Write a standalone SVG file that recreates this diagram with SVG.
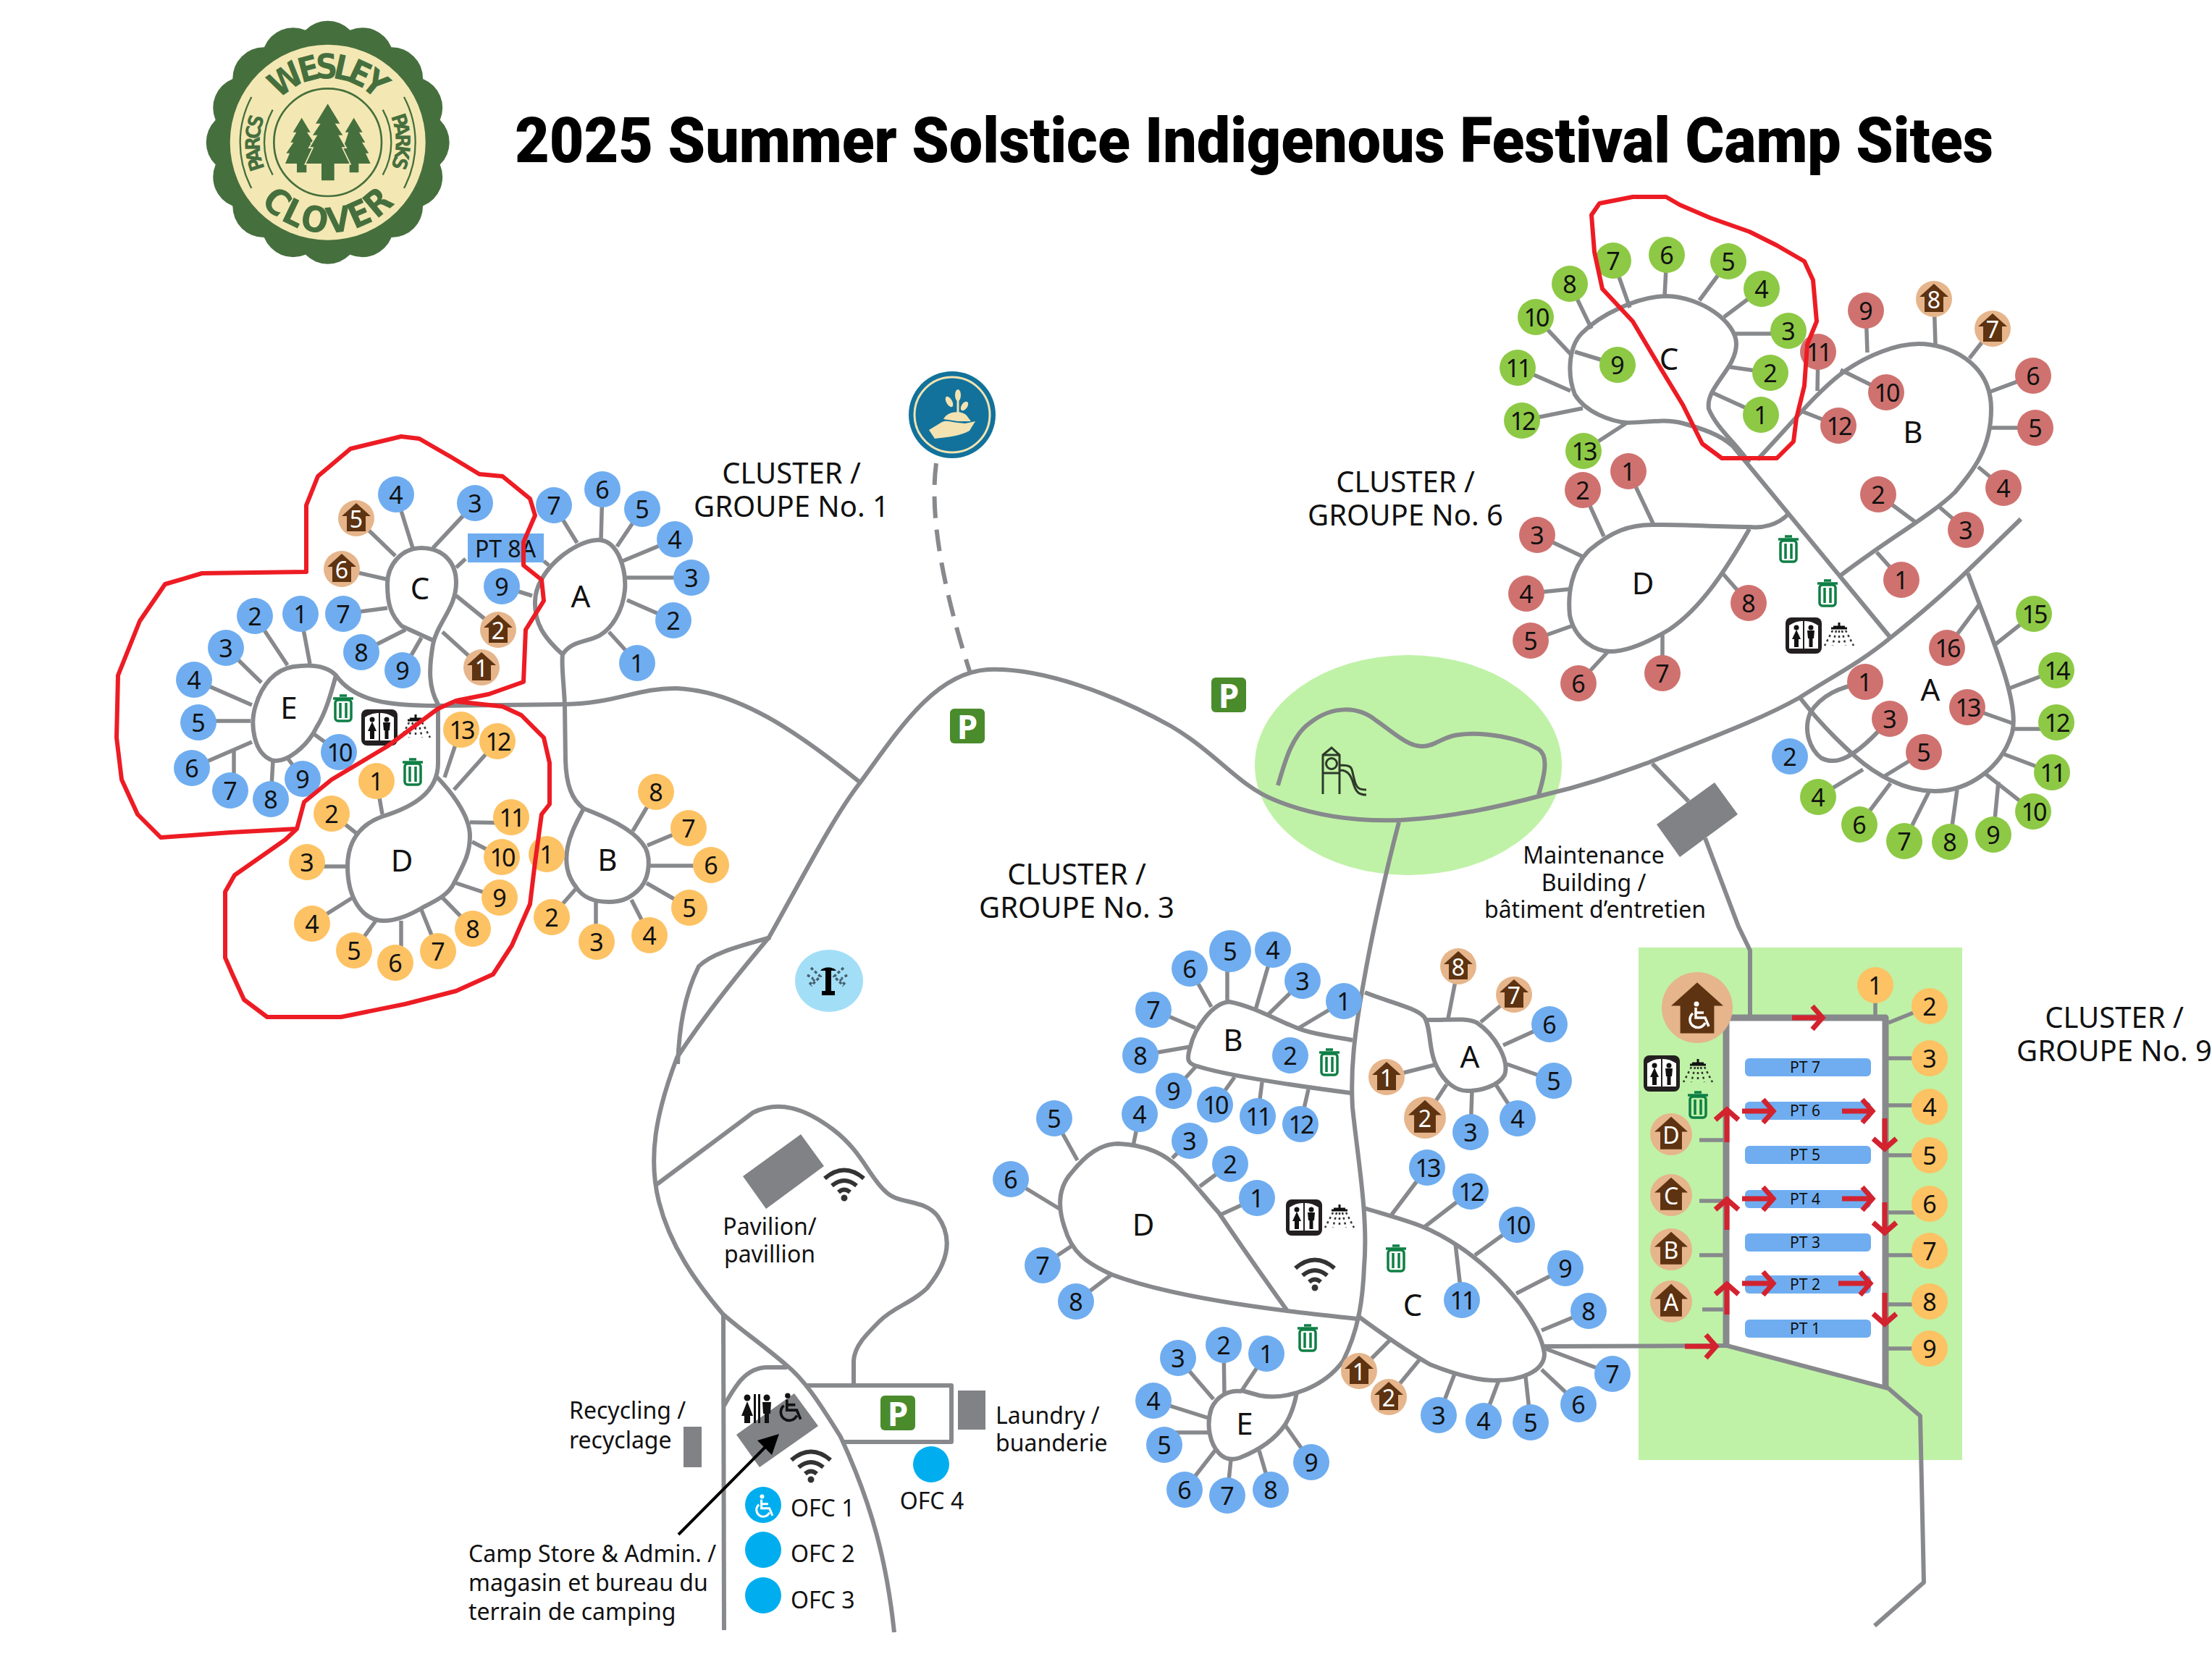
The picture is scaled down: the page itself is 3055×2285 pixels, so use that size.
<svg xmlns="http://www.w3.org/2000/svg" width="3055" height="2285" viewBox="0 0 3055 2285">
<style>
text{font-family:"Noto Sans","Open Sans",sans-serif;fill:#111}
.s text{font-size:34px;text-anchor:middle;dominant-baseline:central}
.s circle{fill:#6fadf0}
.o circle{fill:#fdc263}.g circle{fill:#8dc945}.r circle{fill:#cf726f}.h circle{fill:#e6b58b}
.h text{fill:#fff;font-size:32px}
.t text{letter-spacing:-3px}
.L text,text.L{font-size:42px;text-anchor:middle;dominant-baseline:central}
.cl{font-size:40px;text-anchor:middle}
.lb{font-size:32px}.mid{text-anchor:middle}
.rd{fill:none;stroke:#87898c;stroke-width:6;stroke-linejoin:round;stroke-linecap:butt}
.sp{fill:none;stroke:#87898c;stroke-width:5.5}
.bd{fill:#808285}
.red{fill:none;stroke:#ed1c24;stroke-width:6;stroke-linejoin:round}
.ar{fill:none;stroke:#d2232f;stroke-width:7;marker-end:url(#ah)}
.pt{fill:#6fadf0}
.ptt{font-size:21px;text-anchor:middle;dominant-baseline:central}
.ofc{fill:#00aeef}
.lg{fill:#466f3e}
.lgt{font-family:"Liberation Sans Narrow","DejaVu Sans Condensed",Roboto,sans-serif;font-weight:700;fill:#466f3e}
</style>
<defs>
<marker id="ah" markerUnits="userSpaceOnUse" markerWidth="30" markerHeight="40" refX="22" refY="20" orient="auto" overflow="visible"><path d="M8,4 L22,20 L8,36" fill="none" stroke="#d2232f" stroke-width="7"/></marker>
<polygon id="hs" points="0,-21 20,-3 13,-3 13,18 -13,18 -13,-3 -20,-3" fill="#5e3311"/>
<g id="tr" fill="none" stroke="#0f7f45" stroke-width="3.5"><path d="M-14,-13H14M-5,-17H5"/><rect x="-11" y="-11" width="22" height="29" rx="4"/><path d="M-4,-7V14M4,-7V14"/></g>
<g id="wc"><rect x="-25" y="-25" width="50" height="50" rx="8" fill="#231f20"/><path d="M-20,18V-14Q-10,-21 0,-20Q10,-21 20,-14V18Z" fill="#fff"/><path d="M-1,-20h2V18h-2Z" fill="#231f20"/><circle cx="-10" cy="-11" r="3.5" fill="#111"/><path d="M-10,-8L-16,5H-13V16H-7V5H-4Z" fill="#111"/><circle cx="10" cy="-11" r="3.5" fill="#111"/><path d="M5,-7H15L14,4H12.500V16H7.500V4H6Z" fill="#111"/></g>
<g id="sh"><path d="M-11,-8H11M0,-16V-9M-8,-10H8" stroke="#111" stroke-width="3" fill="none"/><path d="M-9,-5L-20,16M-4,-5L-9,16M0,-5V16M4,-5L9,16M9,-5L20,16" stroke="#333" stroke-width="2.500" stroke-dasharray="3 4" fill="none"/></g>
<g id="wf" fill="none" stroke="#333" stroke-width="6"><path d="M-27,-8Q0,-31 27,-8M-17,2Q0,-12 17,2M-8,11Q0,4 8,11"/><circle cx="0" cy="19" r="3" fill="#333" stroke-width="3"/></g>
<g id="pk"><rect x="-24" y="-24" width="48" height="48" rx="6" fill="#4a8b2c"/></g>
<g id="wch" fill="none" stroke-width="3.500"><path d="M-4,-12V2H9L14,14"/><path d="M-4,-5H7"/><path d="M-8,-4A11,11 0 1 0 9,9"/></g>
<circle id="lobe" cx="452.700" cy="71.700" r="43"/>
<path id="wp" d="M378,386A265,265 0 0 1 778,386"/>
<path id="cp" d="M299,811A375,375 0 0 0 857,811"/>
<path id="pl" d="M318,668A280,280 0 0 1 318,452"/>
<path id="pr" d="M838,452A280,280 0 0 1 838,668"/>
</defs>
<rect width="3055" height="2285" fill="#fff"/>

<g id="park-areas">
<ellipse cx="1945" cy="1057" rx="212" ry="152" fill="#bff2a6"/>
<rect x="2263" y="1309" width="447" height="708" fill="#bff2a6"/>
<polygon points="2384,1406 2606,1406 2606,1918 2384,1859" fill="#fff"/>
</g>

<g id="logo">
<circle cx="452.700" cy="196.700" r="156" class="lg"/>
<g class="lg"><use href="#lobe"/><use href="#lobe" transform="rotate(22.5 452.7 196.7)"/><use href="#lobe" transform="rotate(45 452.7 196.7)"/><use href="#lobe" transform="rotate(67.5 452.7 196.7)"/><use href="#lobe" transform="rotate(90 452.7 196.7)"/><use href="#lobe" transform="rotate(112.5 452.7 196.7)"/><use href="#lobe" transform="rotate(135 452.7 196.7)"/><use href="#lobe" transform="rotate(157.5 452.7 196.7)"/><use href="#lobe" transform="rotate(180 452.7 196.7)"/><use href="#lobe" transform="rotate(202.5 452.7 196.7)"/><use href="#lobe" transform="rotate(225 452.7 196.7)"/><use href="#lobe" transform="rotate(247.5 452.7 196.7)"/><use href="#lobe" transform="rotate(270 452.7 196.7)"/><use href="#lobe" transform="rotate(292.5 452.7 196.7)"/><use href="#lobe" transform="rotate(315 452.7 196.7)"/><use href="#lobe" transform="rotate(337.5 452.7 196.7)"/></g>
<circle cx="452.700" cy="196.700" r="135" fill="#f3e8b3"/>
<g transform="translate(260 10) scale(.33333)">
<circle cx="578" cy="560" r="223" fill="none" stroke="#466f3e" stroke-width="8"/>
<path d="M262,372A403,403 0 0 0 262,750M350,425A278,278 0 0 0 350,695M894,372A403,403 0 0 1 894,750M806,425A278,278 0 0 1 806,695" fill="none" stroke="#466f3e" stroke-width="7"/>
<polygon class="lg" points="470,458 506,518 492,518 520,560 505,560 540,648 490,648 490,685 450,685 450,648 402,648 420,605 406,605 436,560 424,560 448,518 434,518"/>
<polygon class="lg" points="686,458 722,518 708,518 733,560 720,560 748,605 735,605 755,648 706,648 706,685 668,685 668,648 620,648 650,560 664,518 650,518"/>
<polygon class="lg" stroke="#f3e8b3" stroke-width="10" paint-order="stroke" points="578,400 628,482 608,482 640,530 622,530 650,580 635,580 668,648 605,648 605,718 552,718 552,648 488,648 520,580 505,580 535,530 516,530 548,482 528,482"/>
<text class="lgt" font-size="142"><textPath href="#wp" textLength="453" lengthAdjust="spacing">WESLEY</textPath></text>
<text class="lgt" font-size="148"><textPath href="#cp" textLength="628" lengthAdjust="spacing">CLOVER</textPath></text>
<text class="lgt" font-size="84"><textPath href="#pl" textLength="218" lengthAdjust="spacing">PARCS</textPath></text>
<text class="lgt" font-size="84"><textPath href="#pr" textLength="218" lengthAdjust="spacing">PARKS</textPath></text>
</g>
</g>

<text id="title" x="711" y="224" font-size="88" font-weight="900" textLength="2042" lengthAdjust="spacingAndGlyphs" style="font-family:Roboto,'Noto Sans',sans-serif;fill:#000">2025 Summer Solstice Indigenous Festival Camp Sites</text>

<g id="connectors">
<path class="rd" d="M1235,2255C1225,2160 1205,2080 1161,1985C1130,1935 1110,1905 1085,1885C1050,1855 1020,1835 998,1815C960,1770 925,1720 910,1660C895,1600 905,1540 935,1461C975,1400 1020,1345 1062,1295C1110,1210 1150,1130 1188,1081C1240,1010 1290,930 1364,925C1440,922 1540,960 1617,1003C1680,1040 1710,1085 1760,1105C1820,1130 1880,1135 1934,1133C2000,1130 2070,1115 2133,1098C2190,1085 2230,1070 2278,1053C2360,1020 2430,995 2485,964C2530,935 2570,915 2611,881C2650,850 2680,825 2718,788L2791,717"/>
<path class="rd" d="M936,1470C938,1420 945,1375 965,1335C985,1315 1030,1305 1064,1295"/>
<path class="rd" stroke-dasharray="30 16" d="M1293,640C1285,700 1295,790 1340,930"/>
<path class="rd" d="M906,1637L1040,1537C1075,1520 1110,1530 1150,1560C1190,1590 1200,1625 1222,1645C1240,1665 1275,1655 1295,1680C1320,1715 1305,1750 1280,1780C1260,1800 1235,1805 1215,1825C1195,1845 1180,1860 1179,1880L1179,1912"/>
<path class="rd" d="M1113,1914H1314V1992H1166"/>
<path class="rd" d="M999,1815L1000,2252"/>
<path class="rd" d="M1000,1942C1015,1915 1030,1889 1060,1889L1087,1889"/>
<path class="rd" d="M1765,1085C1775,1050 1785,1015 1810,998C1840,975 1875,975 1900,995C1925,1012 1945,1032 1965,1031C1985,1030 1990,1018 2015,1015C2050,1010 2100,1020 2125,1035C2140,1045 2132,1075 2125,1098"/>
<path class="rd" d="M2282,1055L2332,1107M2355,1158L2401,1280L2417,1313V1404"/>
<path class="rd" d="M1932,1136C1915,1200 1895,1290 1884,1353C1870,1430 1865,1480 1868,1530C1875,1600 1890,1680 1884,1750C1882,1800 1875,1840 1855,1880C1830,1915 1780,1935 1740,1928L1715,1921"/>
<!-- cluster 1 -->
<path class="rd" d="M777,904C750,880 738,860 739,830C740,790 790,748 825,746C855,745 865,790 863,815C860,845 845,868 828,878C808,888 790,885 777,904C775,920 779,945 780,975L781,1050C782,1085 790,1105 806,1117"/>
<path class="rd" d="M806,1117C840,1130 872,1145 887,1165C900,1180 898,1210 885,1226C870,1243 855,1246 841,1246C820,1246 805,1240 796,1226C783,1210 780,1190 784,1170C788,1150 797,1135 806,1117Z"/>
<path class="rd" d="M605,973C592,950 592,925 598,890C604,860 630,840 630,805C630,775 610,757 582,757C555,757 535,780 535,807C535,835 540,850 555,865L601,886"/>
<path class="rd" d="M464,933C450,918 425,918 405,921C380,925 362,945 353,975C345,1000 350,1040 375,1050C395,1056 425,1030 437,1005C450,985 458,955 464,933ZC490,970 540,975 605,975L780,973C850,972 880,950 935,951C1020,955 1100,1010 1188,1081"/>
<path class="rd" d="M605,975V1054C605,1095 570,1115 528,1128C495,1140 480,1165 480,1197C480,1240 500,1272 530,1272C550,1272 570,1262 585,1253C605,1243 620,1235 627,1220C640,1195 649,1180 649,1155C649,1125 620,1090 601,1071"/>
<path class="sp" d="M880,916L841,873M930,857L866,829M955,798H865M932,745L860,775M887,703L852,755M832,676L830,746M765,698L797,750M693,810L735,823M751,775L758,781M547,683L570,757M656,695L598,757M492,716L546,768M472,786L533,800M474,848L535,840M499,901L560,870M556,926L582,881M688,870L630,823M665,922L611,873M643,772L630,784M415,848L428,917M352,851L397,919M312,895L361,943M268,939L348,974M274,996H346M265,1061L348,1025M323,1092V1036M374,1104L377,1051M418,1076L397,1047M468,1039L432,1013M636,1008L614,1074M687,1024L627,1091M520,1079L528,1125M458,1124L492,1151M424,1197H480M430,1276L487,1240M489,1313L519,1272M554,1330V1272M605,1314L582,1257M653,1283L611,1240M690,1240L630,1220M693,1184L652,1163M706,1137L649,1136M761,1267L797,1226M823,1301V1246M897,1292L872,1243M952,1254L893,1220M982,1196H898M951,1144L894,1168M906,1094L874,1148"/>
<!-- cluster 6 -->
<path class="rd" d="M2416,639C2395,610 2370,590 2360,565C2355,535 2398,510 2398,475C2398,445 2350,410 2301,409C2260,410 2210,435 2185,460C2165,480 2165,520 2175,545C2190,570 2225,582 2247,584C2270,584 2300,578 2325,585C2350,592 2375,600 2393,616L2611,881"/>
<path class="rd" d="M2427,635C2470,590 2510,540 2546,514C2580,490 2620,475 2650,475C2690,475 2750,500 2750,565C2750,620 2725,650 2700,680C2670,710 2600,750 2542,795"/>
<path class="rd" d="M2469,711C2455,725 2435,730 2416,728C2370,728 2320,724 2286,725C2250,724 2225,735 2195,760C2170,785 2165,820 2168,850C2175,885 2205,900 2224,900C2250,900 2280,885 2305,870C2350,840 2385,785 2416,731"/>
<path class="rd" d="M2486,964C2510,995 2540,1025 2561,1044C2590,1070 2630,1093 2672,1093C2720,1093 2765,1060 2779,1012C2790,970 2750,880 2718,792"/>
<path class="rd" d="M2576,942C2540,950 2515,960 2500,985C2490,1010 2500,1035 2515,1047C2535,1058 2560,1050 2610,993"/>
<path class="sp" d="M2432,573L2366,543M2445,515L2389,507M2470,461H2397M2433,399L2381,438M2387,361L2347,415M2302,352L2299,409M2228,360L2251,425M2168,392L2198,454M2234,504L2175,486M2121,438L2169,489M2096,508L2169,540M2102,581L2186,564M2187,623L2247,584M2626,801L2592,763M2594,683L2645,721M2715,732L2678,700M2767,674L2732,645M2811,591H2749M2808,519L2749,541M2752,454L2720,495M2671,413L2673,475M2577,429L2579,487M2605,542L2542,511M2511,486L2510,540M2539,588L2488,568M2249,651L2283,723M2186,677L2215,741M2123,739L2186,769M2108,820L2167,814M2114,885L2173,864M2180,944L2221,900M2296,930V875M2415,833L2379,792M2511,1101L2573,1063M2657,1039L2603,1072M2568,1139L2611,1082M2630,1162L2664,1094M2693,1163L2703,1091M2753,1153L2760,1080M2808,1121L2742,1069M2834,1067L2768,1042M2840,1007H2779M2717,977L2779,999M2840,926L2775,951M2809,848L2756,890M2689,895L2733,836"/>
<!-- cluster 3 -->
<path class="rd" d="M1885,1371C1920,1385 1955,1392 1967,1405C1977,1420 1972,1450 1985,1475C1995,1495 2010,1507 2027,1507C2045,1507 2070,1500 2078,1485C2085,1465 2065,1430 2040,1413C2025,1405 1995,1410 1970,1409"/>
<path class="rd" d="M1868,1437C1840,1432 1810,1428 1791,1420C1765,1410 1730,1390 1698,1384C1675,1385 1650,1420 1644,1446C1638,1465 1640,1470 1657,1474C1700,1487 1790,1500 1866,1510"/>
<path class="rd" d="M1874,1822C1840,1818 1800,1814 1778,1811C1690,1800 1600,1785 1536,1761C1500,1745 1480,1730 1470,1695C1460,1665 1462,1640 1480,1620C1500,1595 1520,1580 1545,1580C1585,1582 1610,1595 1630,1615C1650,1635 1665,1655 1683,1675C1710,1715 1745,1765 1778,1811"/>
<path class="rd" d="M1884,1669C1910,1677 1940,1685 1963,1694C1985,1703 2000,1712 2015,1722C2045,1742 2075,1770 2100,1802C2120,1830 2130,1850 2133,1870C2133,1895 2100,1907 2065,1907C2035,1907 2000,1895 1975,1885C1940,1865 1905,1840 1874,1817"/>
<path class="rd" d="M2132,1860L2385,1859"/>
<path class="rd" d="M1715,1922C1695,1920 1680,1930 1673,1946C1665,1970 1672,1995 1683,2007C1690,2015 1700,2018 1712,2014C1735,2005 1760,1990 1775,1968C1783,1955 1788,1940 1791,1924"/>
<path class="sp" d="M2014,1335L2000,1407M2091,1374L2045,1412M2140,1415L2076,1444M2146,1493L2081,1470M2096,1545L2065,1497M2031,1564L2033,1507M1968,1544L1998,1498M1915,1488L1982,1471M1856,1383L1794,1420M1799,1355L1750,1403M1758,1312L1734,1395M1695,1314V1385M1643,1338L1673,1391M1593,1395L1651,1420M1575,1458L1644,1446M1621,1507L1651,1474M1678,1526L1705,1488M1737,1542L1743,1495M1796,1553L1807,1505M1736,1655L1686,1678M1699,1608L1657,1639M1643,1576L1619,1600M1574,1539L1565,1583M1456,1545L1488,1603M1396,1629L1465,1671M1440,1748L1482,1720M1486,1798L1535,1761M1971,1613L1922,1678M2031,1646L1966,1696M2095,1692L2037,1734M2019,1796L2010,1718M2162,1752L2094,1787M2194,1811L2129,1838M2227,1898L2134,1863M2180,1940L2129,1892M2114,1965L2107,1902M2049,1963L2070,1907M1987,1955L2009,1898M1918,1930L1960,1879M1877,1894L1920,1851M1749,1870L1715,1921M1690,1858L1691,1926M1627,1876L1676,1933M1593,1935L1669,1959M1600,1979H1670M1636,2058L1678,2004M1695,2066L1700,2016M1755,2058L1739,2004M1811,2020L1775,1969"/>
<!-- cluster 9 -->
<path class="rd" style="stroke-width:9" d="M2384,1862V1406H2604V1918"/>
<path class="rd" d="M2385,1859L2608,1918L2652,1956L2657,2186L2589,2246"/>
<path class="sp" d="M2590,1361V1406M2608,1413L2665,1390M2604,1462H2665M2604,1527H2665M2604,1596H2665M2604,1675H2665M2604,1734H2665M2604,1802H2665M2604,1863H2665M2347,1575H2384M2347,1659H2384M2347,1734H2384M2351,1809H2384"/>
</g>

<g id="buildings">
<polygon class="bd" points="1106,1567 1138,1611 1058,1670 1026,1625"/>
<polygon class="bd" points="1097,1925 1130,1970 1049,2027 1017,1982"/>
<rect class="bd" x="944" y="1971" width="25" height="56"/>
<rect class="bd" x="1323" y="1921" width="38" height="54"/>
<polygon class="bd" points="2368,1081 2400,1125 2320,1184 2288,1139"/>
</g>

<g id="amenities">
<g id="plant" transform="translate(1315 573)"><circle r="60" fill="#12729b"/><circle r="52" fill="none" stroke="#f3e3b2" stroke-width="3"/><g fill="#f3e3b2"><path d="M-32,21L-14,10C-8,7 0,10 8,11L18,12L32,9L24,22C10,30 -8,31 -24,33Z"/><path d="M-12,6C-6,-6 14,-6 20,1L26,9L8,9Z"/><ellipse cx="8" cy="-27" rx="4" ry="8"/><ellipse cx="-4" cy="-18" rx="4" ry="8" transform="rotate(-30 -4 -18)"/><ellipse cx="17" cy="-12" rx="4" ry="7" transform="rotate(35 17 -12)"/><rect x="6.500" y="-22" width="3" height="22"/></g></g>
<g id="spray" transform="translate(1145 1355)"><ellipse rx="47" ry="43" fill="#a3def7"/><path d="M-5,-14H3V14H8V20H-10V14H-5ZM-12,-14C-8,-20 6,-20 10,-14Z" fill="#000"/><path d="M-25,-18L-12,-6L-25,7M-30,-8L-22,-3M-27,5L-20,-2M20,-18L7,-6L20,7M25,-8L17,-3M22,5L15,-2" fill="none" stroke="#46606e" stroke-width="3.500" stroke-dasharray="4 3"/></g>
<g id="parking-1" transform="translate(1336 1003)"><use href="#pk"/><text text-anchor="middle" dominant-baseline="central" font-size="46" font-weight="700" style="fill:#fff">P</text></g>
<g id="parking-2" transform="translate(1697 960)"><use href="#pk"/><text text-anchor="middle" dominant-baseline="central" font-size="46" font-weight="700" style="fill:#fff">P</text></g>
<g id="parking-3" transform="translate(1240 1952)"><use href="#pk"/><text text-anchor="middle" dominant-baseline="central" font-size="46" font-weight="700" style="fill:#fff">P</text></g>
<use href="#wf" x="1166" y="1636"/><use href="#wf" x="1120" y="2025"/><use href="#wf" x="1816" y="1760"/>
<use href="#tr" x="474" y="978"/><use href="#tr" x="570" y="1066"/><use href="#tr" x="2470" y="758"/><use href="#tr" x="2524" y="819"/><use href="#tr" x="1836" y="1467"/><use href="#tr" x="1806" y="1848"/><use href="#tr" x="1928" y="1738"/><use href="#tr" x="2345" y="1526"/>
<use href="#wc" x="524" y="1005"/><use href="#wc" x="2491" y="878"/><use href="#wc" x="1801" y="1682"/><use href="#wc" x="2295" y="1483"/>
<use href="#sh" x="574" y="1003"/><use href="#sh" x="2540" y="876"/><use href="#sh" x="1850" y="1680"/><use href="#sh" x="2345" y="1479"/>
<g id="store-wc" fill="#111"><circle cx="1032" cy="1931" r="4.500"/><path d="M1032,1936L1024,1956H1028V1966H1036V1956H1040Z"/><rect x="1041" y="1926" width="3" height="40"/><rect x="1047" y="1926" width="3" height="40"/><circle cx="1059" cy="1931" r="4.500"/><path d="M1053,1937H1065L1064,1953H1062V1966H1056V1953H1054Z"/></g>
<g id="store-access" transform="translate(1091 1946) scale(1.050)" stroke="#111"><circle cx="-3" cy="-17" r="3.500" fill="#111" stroke="none"/><use href="#wch"/></g>
<path id="playground" d="M1827,1097V1043L1839,1033L1850,1043V1097M1827,1068H1850M1827,1043H1850M1851,1057C1870,1057 1866,1062 1870,1075C1873,1090 1878,1091 1887,1091M1851,1064C1862,1064 1866,1072 1869,1082C1873,1096 1878,1098 1887,1098" fill="none" stroke="#2f3a2a" stroke-width="3"/>
<circle cx="1839" cy="1055" r="7.500" fill="none" stroke="#2f3a2a" stroke-width="3"/>
<rect id="pt8a" x="646" y="737" width="105" height="40" class="pt"/>
<text x="698" y="757" font-size="32" text-anchor="middle" dominant-baseline="central">PT 8A</text>
</g>

<g id="cluster-1-sites">
<g id="c1a1" class="s" transform="translate(880 916)"><circle r="25"/><text>1</text></g>
<g id="c1a2" class="s" transform="translate(930 857)"><circle r="25"/><text>2</text></g>
<g id="c1a3" class="s" transform="translate(955 798)"><circle r="25"/><text>3</text></g>
<g id="c1a4" class="s" transform="translate(932 745)"><circle r="25"/><text>4</text></g>
<g id="c1a5" class="s" transform="translate(887 703)"><circle r="25"/><text>5</text></g>
<g id="c1a6" class="s" transform="translate(832 676)"><circle r="25"/><text>6</text></g>
<g id="c1a7" class="s" transform="translate(765 698)"><circle r="25"/><text>7</text></g>
<g id="c1a9" class="s" transform="translate(693 810)"><circle r="25"/><text>9</text></g>
<g id="c1c4" class="s" transform="translate(547 683)"><circle r="25"/><text>4</text></g>
<g id="c1c3" class="s" transform="translate(656 695)"><circle r="25"/><text>3</text></g>
<g id="c1c7" class="s" transform="translate(474 848)"><circle r="25"/><text>7</text></g>
<g id="c1c8" class="s" transform="translate(499 901)"><circle r="25"/><text>8</text></g>
<g id="c1c9" class="s" transform="translate(556 926)"><circle r="25"/><text>9</text></g>
<g id="c1c5" class="s h" transform="translate(492 716)"><circle r="25"/><use href="#hs"/><text>5</text></g>
<g id="c1c6" class="s h" transform="translate(472 786)"><circle r="25"/><use href="#hs"/><text>6</text></g>
<g id="c1c2" class="s h" transform="translate(688 870)"><circle r="25"/><use href="#hs"/><text>2</text></g>
<g id="c1c1" class="s h" transform="translate(665 922)"><circle r="25"/><use href="#hs"/><text>1</text></g>
<g id="c1e1" class="s" transform="translate(415 848)"><circle r="25"/><text>1</text></g>
<g id="c1e2" class="s" transform="translate(352 851)"><circle r="25"/><text>2</text></g>
<g id="c1e3" class="s" transform="translate(312 895)"><circle r="25"/><text>3</text></g>
<g id="c1e4" class="s" transform="translate(268 939)"><circle r="25"/><text>4</text></g>
<g id="c1e5" class="s" transform="translate(274 998)"><circle r="25"/><text>5</text></g>
<g id="c1e6" class="s" transform="translate(265 1061)"><circle r="25"/><text>6</text></g>
<g id="c1e7" class="s" transform="translate(318 1092)"><circle r="25"/><text>7</text></g>
<g id="c1e8" class="s" transform="translate(374 1104)"><circle r="25"/><text>8</text></g>
<g id="c1e9" class="s" transform="translate(418 1076)"><circle r="25"/><text>9</text></g>
<g id="c1e10" class="s t" transform="translate(468 1039)"><circle r="25"/><text>10</text></g>
<g id="c1d1" class="s o" transform="translate(520 1079)"><circle r="25"/><text>1</text></g>
<g id="c1d2" class="s o" transform="translate(458 1124)"><circle r="25"/><text>2</text></g>
<g id="c1d3" class="s o" transform="translate(424 1191)"><circle r="25"/><text>3</text></g>
<g id="c1d4" class="s o" transform="translate(431 1276)"><circle r="25"/><text>4</text></g>
<g id="c1d5" class="s o" transform="translate(489 1313)"><circle r="25"/><text>5</text></g>
<g id="c1d6" class="s o" transform="translate(546 1330)"><circle r="25"/><text>6</text></g>
<g id="c1d7" class="s o" transform="translate(605 1314)"><circle r="25"/><text>7</text></g>
<g id="c1d8" class="s o" transform="translate(653 1283)"><circle r="25"/><text>8</text></g>
<g id="c1d9" class="s o" transform="translate(690 1240)"><circle r="25"/><text>9</text></g>
<g id="c1d10" class="s o t" transform="translate(693 1184)"><circle r="25"/><text>10</text></g>
<g id="c1d11" class="s o t" transform="translate(706 1129)"><circle r="25"/><text>11</text></g>
<g id="c1d12" class="s o t" transform="translate(687 1024)"><circle r="25"/><text>12</text></g>
<g id="c1d13" class="s o t" transform="translate(637 1008)"><circle r="25"/><text>13</text></g>
<g id="c1b1" class="s o" transform="translate(755 1180)"><circle r="25"/><text>1</text></g>
<g id="c1b2" class="s o" transform="translate(762 1267)"><circle r="25"/><text>2</text></g>
<g id="c1b3" class="s o" transform="translate(824 1301)"><circle r="25"/><text>3</text></g>
<g id="c1b4" class="s o" transform="translate(897 1292)"><circle r="25"/><text>4</text></g>
<g id="c1b5" class="s o" transform="translate(952 1254)"><circle r="25"/><text>5</text></g>
<g id="c1b6" class="s o" transform="translate(982 1195)"><circle r="25"/><text>6</text></g>
<g id="c1b7" class="s o" transform="translate(951 1144)"><circle r="25"/><text>7</text></g>
<g id="c1b8" class="s o" transform="translate(906 1094)"><circle r="25"/><text>8</text></g>
</g>

<g id="cluster-6-sites">
<g id="c6c1" class="s g" transform="translate(2432 573)"><circle r="25"/><text>1</text></g>
<g id="c6c2" class="s g" transform="translate(2445 515)"><circle r="25"/><text>2</text></g>
<g id="c6c3" class="s g" transform="translate(2470 457)"><circle r="25"/><text>3</text></g>
<g id="c6c4" class="s g" transform="translate(2433 399)"><circle r="25"/><text>4</text></g>
<g id="c6c5" class="s g" transform="translate(2387 361)"><circle r="25"/><text>5</text></g>
<g id="c6c6" class="s g" transform="translate(2302 352)"><circle r="25"/><text>6</text></g>
<g id="c6c7" class="s g" transform="translate(2228 360)"><circle r="25"/><text>7</text></g>
<g id="c6c8" class="s g" transform="translate(2168 392)"><circle r="25"/><text>8</text></g>
<g id="c6c9" class="s g" transform="translate(2234 504)"><circle r="25"/><text>9</text></g>
<g id="c6c10" class="s g t" transform="translate(2121 438)"><circle r="25"/><text>10</text></g>
<g id="c6c11" class="s g t" transform="translate(2096 508)"><circle r="25"/><text>11</text></g>
<g id="c6c12" class="s g t" transform="translate(2102 581)"><circle r="25"/><text>12</text></g>
<g id="c6c13" class="s g t" transform="translate(2187 623)"><circle r="25"/><text>13</text></g>
<g id="c6b1" class="s r" transform="translate(2626 801)"><circle r="25"/><text>1</text></g>
<g id="c6b2" class="s r" transform="translate(2594 683)"><circle r="25"/><text>2</text></g>
<g id="c6b3" class="s r" transform="translate(2715 732)"><circle r="25"/><text>3</text></g>
<g id="c6b4" class="s r" transform="translate(2767 674)"><circle r="25"/><text>4</text></g>
<g id="c6b5" class="s r" transform="translate(2811 591)"><circle r="25"/><text>5</text></g>
<g id="c6b6" class="s r" transform="translate(2808 519)"><circle r="25"/><text>6</text></g>
<g id="c6b7" class="s h" transform="translate(2752 454)"><circle r="25"/><use href="#hs"/><text>7</text></g>
<g id="c6b8" class="s h" transform="translate(2671 413)"><circle r="25"/><use href="#hs"/><text>8</text></g>
<g id="c6b9" class="s r" transform="translate(2577 429)"><circle r="25"/><text>9</text></g>
<g id="c6b10" class="s r t" transform="translate(2605 542)"><circle r="25"/><text>10</text></g>
<g id="c6b11" class="s r t" transform="translate(2511 486)"><circle r="25"/><text>11</text></g>
<g id="c6b12" class="s r t" transform="translate(2539 588)"><circle r="25"/><text>12</text></g>
<g id="c6d1" class="s r" transform="translate(2249 651)"><circle r="25"/><text>1</text></g>
<g id="c6d2" class="s r" transform="translate(2186 677)"><circle r="25"/><text>2</text></g>
<g id="c6d3" class="s r" transform="translate(2123 739)"><circle r="25"/><text>3</text></g>
<g id="c6d4" class="s r" transform="translate(2108 820)"><circle r="25"/><text>4</text></g>
<g id="c6d5" class="s r" transform="translate(2114 885)"><circle r="25"/><text>5</text></g>
<g id="c6d6" class="s r" transform="translate(2180 944)"><circle r="25"/><text>6</text></g>
<g id="c6d7" class="s r" transform="translate(2296 930)"><circle r="25"/><text>7</text></g>
<g id="c6d8" class="s r" transform="translate(2415 833)"><circle r="25"/><text>8</text></g>
<g id="c6a1" class="s r" transform="translate(2576 942)"><circle r="25"/><text>1</text></g>
<g id="c6a2" class="s" transform="translate(2472 1045)"><circle r="25"/><text>2</text></g>
<g id="c6a3" class="s r" transform="translate(2610 993)"><circle r="25"/><text>3</text></g>
<g id="c6a4" class="s g" transform="translate(2511 1101)"><circle r="25"/><text>4</text></g>
<g id="c6a5" class="s r" transform="translate(2657 1039)"><circle r="25"/><text>5</text></g>
<g id="c6a6" class="s g" transform="translate(2568 1139)"><circle r="25"/><text>6</text></g>
<g id="c6a7" class="s g" transform="translate(2630 1162)"><circle r="25"/><text>7</text></g>
<g id="c6a8" class="s g" transform="translate(2693 1163)"><circle r="25"/><text>8</text></g>
<g id="c6a9" class="s g" transform="translate(2753 1153)"><circle r="25"/><text>9</text></g>
<g id="c6a10" class="s g t" transform="translate(2808 1121)"><circle r="25"/><text>10</text></g>
<g id="c6a11" class="s g t" transform="translate(2834 1067)"><circle r="25"/><text>11</text></g>
<g id="c6a12" class="s g t" transform="translate(2840 998)"><circle r="25"/><text>12</text></g>
<g id="c6a13" class="s r t" transform="translate(2717 977)"><circle r="25"/><text>13</text></g>
<g id="c6a14" class="s g t" transform="translate(2840 926)"><circle r="25"/><text>14</text></g>
<g id="c6a15" class="s g t" transform="translate(2809 848)"><circle r="25"/><text>15</text></g>
<g id="c6a16" class="s r t" transform="translate(2689 895)"><circle r="25"/><text>16</text></g>
</g>

<g id="cluster-3-sites">
<g id="c3a1" class="s h" transform="translate(1915 1488)"><circle r="25"/><use href="#hs"/><text>1</text></g>
<g id="c3a2" class="s h" transform="translate(1968 1544)"><circle r="29"/><use href="#hs" transform="scale(1.150)"/><text>2</text></g>
<g id="c3a3" class="s" transform="translate(2031 1564)"><circle r="25"/><text>3</text></g>
<g id="c3a4" class="s" transform="translate(2096 1545)"><circle r="25"/><text>4</text></g>
<g id="c3a5" class="s" transform="translate(2146 1493)"><circle r="25"/><text>5</text></g>
<g id="c3a6" class="s" transform="translate(2140 1415)"><circle r="25"/><text>6</text></g>
<g id="c3a7" class="s h" transform="translate(2091 1374)"><circle r="25"/><use href="#hs"/><text>7</text></g>
<g id="c3a8" class="s h" transform="translate(2014 1335)"><circle r="25"/><use href="#hs"/><text>8</text></g>
<g id="c3b1" class="s" transform="translate(1856 1383)"><circle r="25"/><text>1</text></g>
<g id="c3b2" class="s" transform="translate(1782 1458)"><circle r="25"/><text>2</text></g>
<g id="c3b3" class="s" transform="translate(1799 1355)"><circle r="25"/><text>3</text></g>
<g id="c3b4" class="s" transform="translate(1758 1312)"><circle r="25"/><text>4</text></g>
<g id="c3b5" class="s" transform="translate(1699 1314)"><circle r="29"/><text>5</text></g>
<g id="c3b6" class="s" transform="translate(1643 1338)"><circle r="25"/><text>6</text></g>
<g id="c3b7" class="s" transform="translate(1593 1395)"><circle r="25"/><text>7</text></g>
<g id="c3b8" class="s" transform="translate(1575 1458)"><circle r="25"/><text>8</text></g>
<g id="c3b9" class="s" transform="translate(1621 1507)"><circle r="25"/><text>9</text></g>
<g id="c3b10" class="s t" transform="translate(1678 1526)"><circle r="25"/><text>10</text></g>
<g id="c3b11" class="s t" transform="translate(1737 1542)"><circle r="25"/><text>11</text></g>
<g id="c3b12" class="s t" transform="translate(1796 1553)"><circle r="25"/><text>12</text></g>
<g id="c3d1" class="s" transform="translate(1736 1655)"><circle r="25"/><text>1</text></g>
<g id="c3d2" class="s" transform="translate(1699 1608)"><circle r="25"/><text>2</text></g>
<g id="c3d3" class="s" transform="translate(1643 1576)"><circle r="25"/><text>3</text></g>
<g id="c3d4" class="s" transform="translate(1574 1539)"><circle r="25"/><text>4</text></g>
<g id="c3d5" class="s" transform="translate(1456 1545)"><circle r="25"/><text>5</text></g>
<g id="c3d6" class="s" transform="translate(1396 1629)"><circle r="25"/><text>6</text></g>
<g id="c3d7" class="s" transform="translate(1440 1748)"><circle r="25"/><text>7</text></g>
<g id="c3d8" class="s" transform="translate(1486 1798)"><circle r="25"/><text>8</text></g>
<g id="c3c1" class="s h" transform="translate(1877 1894)"><circle r="25"/><use href="#hs"/><text>1</text></g>
<g id="c3c2" class="s h" transform="translate(1918 1930)"><circle r="25"/><use href="#hs"/><text>2</text></g>
<g id="c3c3" class="s" transform="translate(1987 1955)"><circle r="25"/><text>3</text></g>
<g id="c3c4" class="s" transform="translate(2049 1963)"><circle r="25"/><text>4</text></g>
<g id="c3c5" class="s" transform="translate(2114 1965)"><circle r="25"/><text>5</text></g>
<g id="c3c6" class="s" transform="translate(2180 1940)"><circle r="25"/><text>6</text></g>
<g id="c3c7" class="s" transform="translate(2227 1898)"><circle r="25"/><text>7</text></g>
<g id="c3c8" class="s" transform="translate(2194 1811)"><circle r="25"/><text>8</text></g>
<g id="c3c9" class="s" transform="translate(2162 1752)"><circle r="25"/><text>9</text></g>
<g id="c3c10" class="s t" transform="translate(2095 1692)"><circle r="25"/><text>10</text></g>
<g id="c3c11" class="s t" transform="translate(2019 1796)"><circle r="25"/><text>11</text></g>
<g id="c3c12" class="s t" transform="translate(2031 1646)"><circle r="25"/><text>12</text></g>
<g id="c3c13" class="s t" transform="translate(1971 1613)"><circle r="25"/><text>13</text></g>
<g id="c3e1" class="s" transform="translate(1749 1870)"><circle r="25"/><text>1</text></g>
<g id="c3e2" class="s" transform="translate(1690 1858)"><circle r="25"/><text>2</text></g>
<g id="c3e3" class="s" transform="translate(1627 1876)"><circle r="25"/><text>3</text></g>
<g id="c3e4" class="s" transform="translate(1593 1935)"><circle r="25"/><text>4</text></g>
<g id="c3e5" class="s" transform="translate(1608 1996)"><circle r="25"/><text>5</text></g>
<g id="c3e6" class="s" transform="translate(1636 2058)"><circle r="25"/><text>6</text></g>
<g id="c3e7" class="s" transform="translate(1695 2066)"><circle r="25"/><text>7</text></g>
<g id="c3e8" class="s" transform="translate(1755 2058)"><circle r="25"/><text>8</text></g>
<g id="c3e9" class="s" transform="translate(1811 2020)"><circle r="25"/><text>9</text></g>
</g>

<g id="cluster-9-sites">
<g id="c9s1" class="s o" transform="translate(2590 1361)"><circle r="25"/><text>1</text></g>
<g id="c9s2" class="s o" transform="translate(2665 1390)"><circle r="25"/><text>2</text></g>
<g id="c9s3" class="s o" transform="translate(2665 1462)"><circle r="25"/><text>3</text></g>
<g id="c9s4" class="s o" transform="translate(2665 1529)"><circle r="25"/><text>4</text></g>
<g id="c9s5" class="s o" transform="translate(2665 1596)"><circle r="25"/><text>5</text></g>
<g id="c9s6" class="s o" transform="translate(2665 1663)"><circle r="25"/><text>6</text></g>
<g id="c9s7" class="s o" transform="translate(2665 1728)"><circle r="25"/><text>7</text></g>
<g id="c9s8" class="s o" transform="translate(2665 1798)"><circle r="25"/><text>8</text></g>
<g id="c9s9" class="s o" transform="translate(2665 1863)"><circle r="25"/><text>9</text></g>
<g id="c9d" class="s h" transform="translate(2308 1567)"><circle r="29"/><use href="#hs" transform="scale(1.150)"/><text>D</text></g>
<g id="c9c" class="s h" transform="translate(2308 1651)"><circle r="29"/><use href="#hs" transform="scale(1.150)"/><text>C</text></g>
<g id="c9b" class="s h" transform="translate(2308 1726)"><circle r="29"/><use href="#hs" transform="scale(1.150)"/><text>B</text></g>
<g id="c9a" class="s h" transform="translate(2308 1798)"><circle r="29"/><use href="#hs" transform="scale(1.150)"/><text>A</text></g>
<g id="c9access" transform="translate(2344 1392)"><circle r="49" fill="#e6b58b"/><use href="#hs" transform="translate(0 3) scale(1.800)"/><g stroke="#fff" transform="translate(2 12)"><circle cx="-3" cy="-17" r="3.500" fill="#fff" stroke="none"/><use href="#wch"/></g></g>
<g id="pitches">
<rect class="pt" x="2410" y="1462" width="174" height="25" rx="6"/><text class="ptt" x="2493" y="1474">PT 7</text>
<rect class="pt" x="2410" y="1522" width="174" height="25" rx="6"/><text class="ptt" x="2493" y="1534">PT 6</text>
<rect class="pt" x="2410" y="1583" width="174" height="25" rx="6"/><text class="ptt" x="2493" y="1595">PT 5</text>
<rect class="pt" x="2410" y="1644" width="174" height="25" rx="6"/><text class="ptt" x="2493" y="1656">PT 4</text>
<rect class="pt" x="2410" y="1704" width="174" height="25" rx="6"/><text class="ptt" x="2493" y="1716">PT 3</text>
<rect class="pt" x="2410" y="1762" width="174" height="25" rx="6"/><text class="ptt" x="2493" y="1774">PT 2</text>
<rect class="pt" x="2410" y="1823" width="174" height="25" rx="6"/><text class="ptt" x="2493" y="1835">PT 1</text>
</g>
<g id="traffic-arrows">
<path class="ar" d="M2475,1406H2517"/><path class="ar" d="M2327,1860H2370"/>
<path class="ar" d="M2406,1535H2449"/><path class="ar" d="M2544,1535H2586"/>
<path class="ar" d="M2406,1656H2449"/><path class="ar" d="M2544,1656H2586"/>
<path class="ar" d="M2406,1773H2449"/><path class="ar" d="M2539,1773H2583"/>
<path class="ar" d="M2385,1578V1533"/><path class="ar" d="M2385,1699V1657"/><path class="ar" d="M2385,1816V1774"/>
<path class="ar" d="M2603,1545V1587"/><path class="ar" d="M2603,1661V1703"/><path class="ar" d="M2603,1786V1829"/>
</g>
</g>

<g id="offices">
<g id="ofc1"><circle class="ofc" cx="1054" cy="2079" r="25"/><g transform="translate(1055 2082) scale(.85)" stroke="#fff"><circle cx="-3" cy="-17" r="3.500" fill="#fff" stroke="none"/><use href="#wch"/></g><text class="lb" x="1092" y="2082" dominant-baseline="central">OFC 1</text></g>
<g id="ofc2"><circle class="ofc" cx="1054" cy="2141" r="25"/><text class="lb" x="1092" y="2145" dominant-baseline="central">OFC 2</text></g>
<g id="ofc3"><circle class="ofc" cx="1054" cy="2204" r="25"/><text class="lb" x="1092" y="2209" dominant-baseline="central">OFC 3</text></g>
<g id="ofc4"><circle class="ofc" cx="1286" cy="2023" r="25"/><text class="lb mid" x="1287" y="2072" dominant-baseline="central">OFC 4</text></g>
</g>

<g id="section-letters" class="L">
<text x="802" y="822">A</text><text x="580" y="811">C</text><text x="399" y="976">E</text><text x="555" y="1187">D</text><text x="839" y="1186">B</text>
<text x="2305" y="494">C</text><text x="2642" y="595">B</text><text x="2269" y="804">D</text><text x="2666" y="951">A</text>
<text x="2030" y="1458">A</text><text x="1703" y="1435">B</text><text x="1579" y="1690">D</text><text x="1951" y="1801">C</text><text x="1719" y="1965">E</text>
</g>

<g id="boundaries">
<polygon class="red" points="423,790 423,698 439,658 484,620 554,603 579,606 624,632 662,655 694,658 732,689 739,712 723,749 723,781 748,801 751,830 726,870 723,942 675,959 630,968 605,979 535,1031 458,1077 420,1108 410,1145 318,1150 222,1157 190,1125 168,1077 161,1019 163,933 193,858 228,807 279,792"/>
<polyline class="red" points="630,969 694,976 720,988 751,1019 759,1054 759,1111 748,1125 739,1191 732,1249 707,1306 681,1346 630,1369 560,1387 471,1405 369,1405 337,1381 321,1346 311,1323 311,1232 324,1209 394,1160 410,1145"/>
<polygon class="red" points="2198,297 2209,281 2255,272 2301,272 2320,283 2362,301 2416,320 2454,339 2492,361 2504,387 2509,444 2496,476 2492,533 2481,578 2477,610 2454,633 2378,633 2351,613 2324,559 2293,508 2255,444 2213,399 2202,348"/>
</g>

<g id="labels">
<text class="cl" x="1093" y="668">CLUSTER /</text><text class="cl" x="1093" y="714">GROUPE No. 1</text>
<text class="cl" x="1941" y="680">CLUSTER /</text><text class="cl" x="1941" y="726">GROUPE No. 6</text>
<text class="cl" x="1487" y="1222">CLUSTER /</text><text class="cl" x="1487" y="1268">GROUPE No. 3</text>
<text class="cl" x="2920" y="1420">CLUSTER /</text><text class="cl" x="2920" y="1466">GROUPE No. 9</text>
<g class="lb mid" text-anchor="middle"><text x="2201" y="1193">Maintenance</text><text x="2201" y="1231">Building /</text><text x="2203" y="1268">bâtiment d’entretien</text></g>
<g class="lb" text-anchor="middle"><text x="1063" y="1706">Pavilion/</text><text x="1063" y="1744">pavillion</text></g>
<g class="lb"><text x="786" y="1960">Recycling /</text><text x="786" y="2001">recyclage</text></g>
<g class="lb"><text x="1375" y="1967">Laundry /</text><text x="1375" y="2005">buanderie</text></g>
<g class="lb"><text x="647" y="2158">Camp Store &amp; Admin. /</text><text x="647" y="2198">magasin et bureau du</text><text x="647" y="2238">terrain de camping</text></g>
</g>
<g id="store-arrow"><path d="M937,2120L1060,1996" stroke="#000" stroke-width="4" fill="none"/><polygon points="1076,1981 1066,2010 1046,1990" fill="#000"/></g>
</svg>
